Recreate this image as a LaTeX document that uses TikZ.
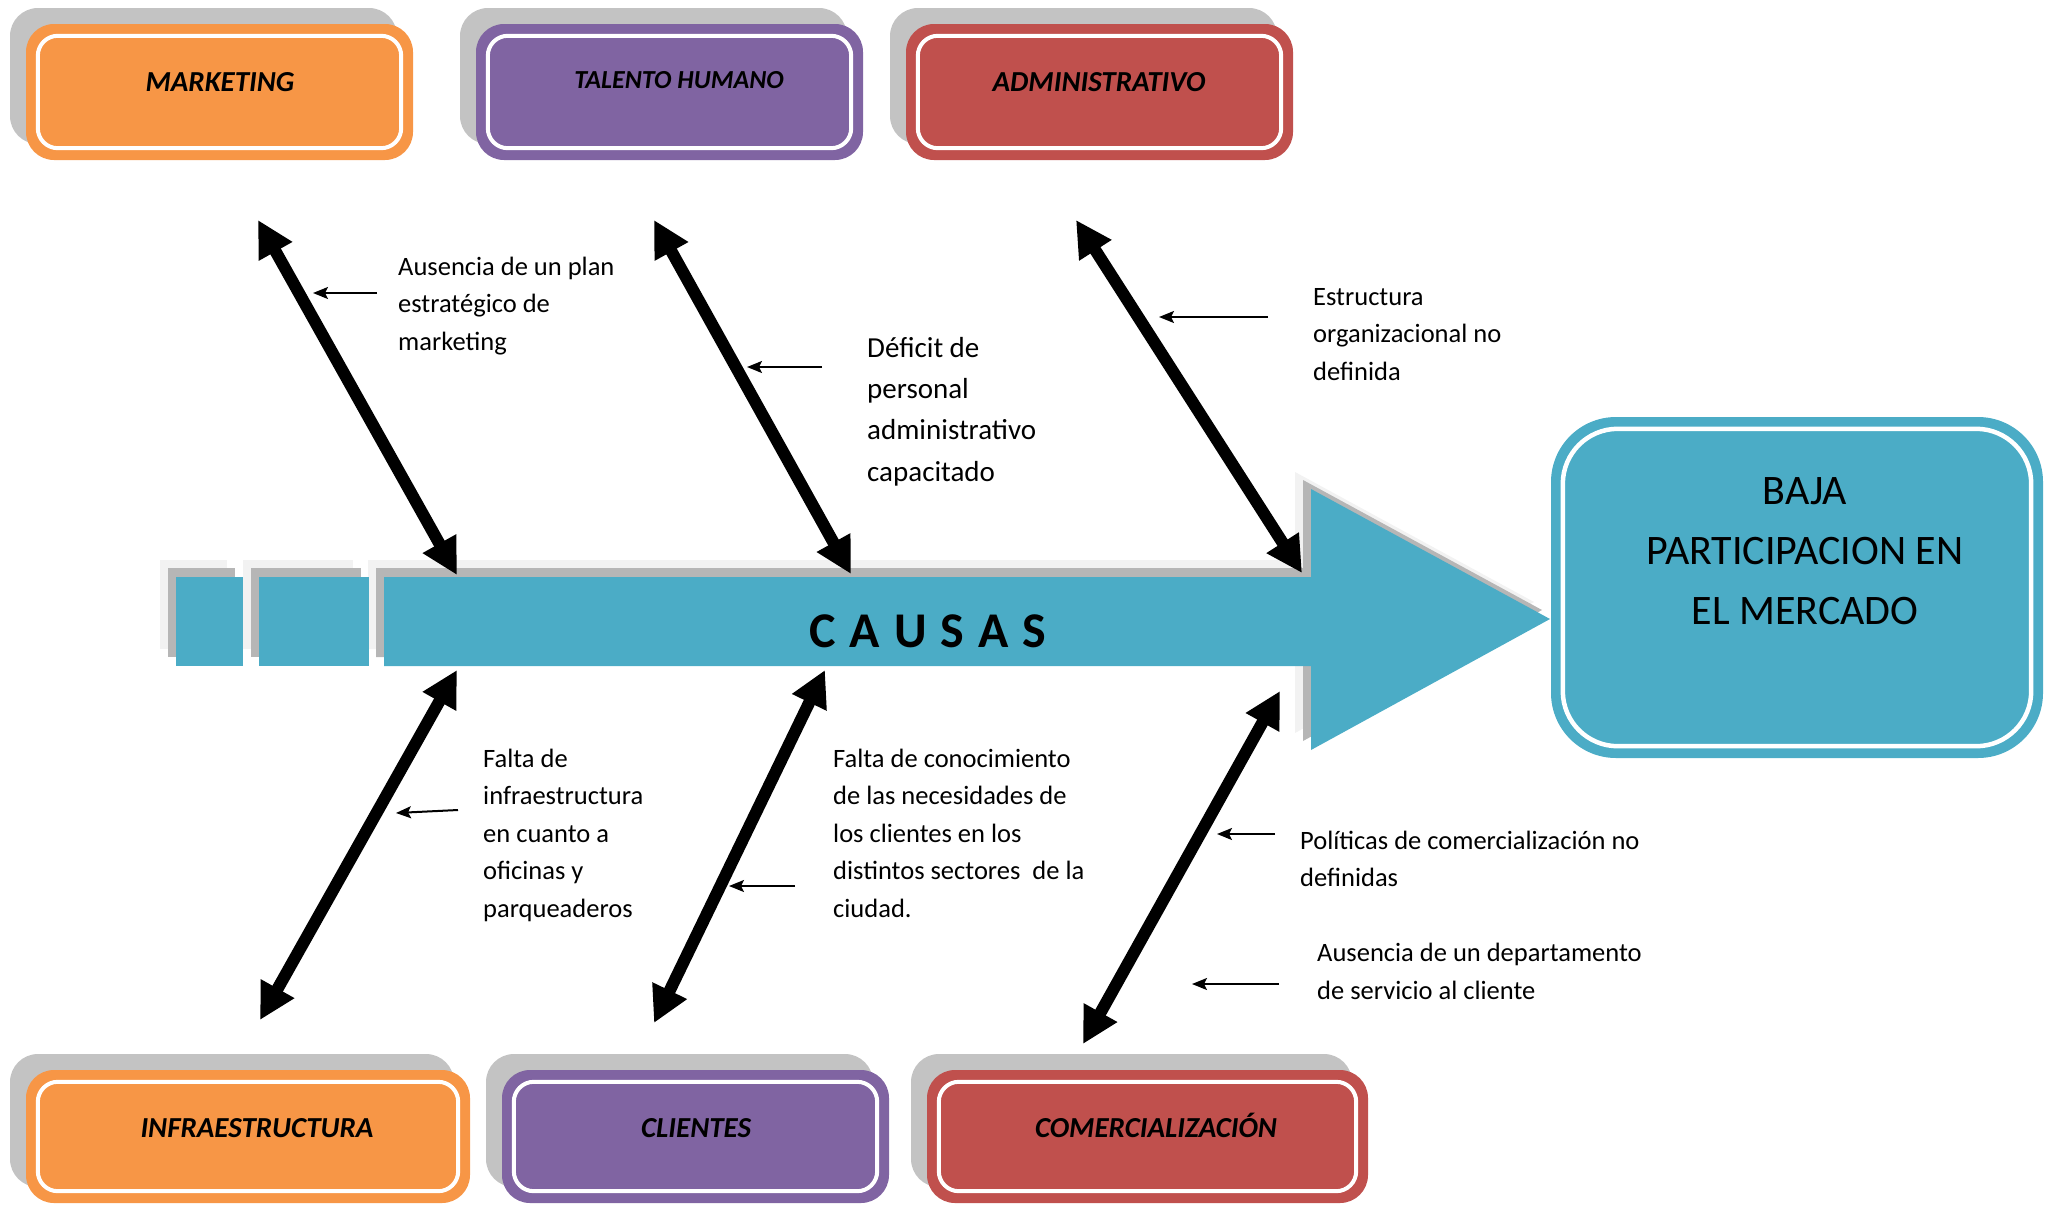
\documentclass[tikz,border=0pt]{standalone}
\usepackage{fontspec}
\setmainfont{Carlito}
\usetikzlibrary{arrows.meta,shadows}
\definecolor{cOrange}{HTML}{F79646}
\definecolor{cPurple}{HTML}{8064A2}
\definecolor{cRed}{HTML}{C0504D}
\definecolor{cTeal}{HTML}{4BACC6}
\definecolor{cShadow}{HTML}{C3C3C3}
\definecolor{cShA}{HTML}{B6B6B6}
\definecolor{cShB}{HTML}{F2F2F2}
\begin{document}
\begin{tikzpicture}[x=1pt,y=-1pt,
  catbox/.style={fill=#1, rounded corners=28pt, minimum height=136pt, inner sep=0pt,
    general shadow={fill=cShadow, shadow xshift=-16pt, shadow yshift=16pt}},
  innerline/.style={draw=white, line width=4pt, rounded corners=20pt},
  catlabel/.style={anchor=base, inner sep=0pt, font=\bfseries\itshape\fontsize{29}{34}\selectfont},
  causetext/.style={anchor=north west, align=left, inner sep=0pt, font=\fontsize{26.5}{37.5}\selectfont},
  bigarrow/.style={line width=12pt, {Triangle[length=36pt,width=36pt]}-{Triangle[length=36pt,width=36pt]}},
  smallarrow/.style={line width=2pt, -{Stealth[length=15pt,width=12pt,inset=3pt]}}
]
\useasboundingbox (0,0) rectangle (2056,1205);

% ---------- category boxes ----------
\node[catbox=cOrange, minimum width=387pt] (mk) at (219.5,92) {};
\node[catbox=cPurple, minimum width=387pt] (th) at (669.5,92) {};
\node[catbox=cRed, minimum width=387pt] (ad) at (1099.5,92) {};
\node[catbox=cOrange, minimum width=444pt, minimum height=133pt] (inf) at (248,1136.5) {};
\node[catbox=cPurple, minimum width=387pt, minimum height=133pt] (cl) at (695.5,1136.5) {};
\node[catbox=cRed, minimum width=441pt, minimum height=133pt] (co) at (1147.5,1136.5) {};
\foreach \b in {mk,th,ad,inf,cl,co}{
  \draw[innerline] ([xshift=12pt,yshift=-12pt]\b.north west) rectangle ([xshift=-12pt,yshift=12pt]\b.south east);
}
\node[catlabel] (mkl) at (220,91) {MARKETING};
\node[catlabel, font=\bfseries\itshape\fontsize{26}{30}\selectfont] (thl) at (679,88) {TALENTO HUMANO};
\node[catlabel] (adl) at (1099,91) {ADMINISTRATIVO};
\node[catlabel] (infl) at (257,1137) {INFRAESTRUCTURA};
\node[catlabel] (cll) at (696,1137) {CLIENTES};
\node[catlabel] (col) at (1156,1137) {COMERCIALIZACIÓN};

% ---------- spine ----------
\foreach \dx/\dy/\c in {-16/-17/cShB,-8/-9/cShA}{
  \begin{scope}[shift={(\dx,\dy)}]
    \fill[\c] (176,577) rectangle (243,666);
    \fill[\c] (259,577) rectangle (369,666);
    \fill[\c] (384,577) -- (1311,577) -- (1311,489) -- (1550,619) -- (1311,750) -- (1311,666) -- (384,666) -- cycle;
  \end{scope}
}
\fill[cTeal] (176,577) rectangle (243,666);
\fill[cTeal] (259,577) rectangle (369,666);
\fill[cTeal] (384,577) -- (1311,577) -- (1311,489) -- (1550,619) -- (1311,750) -- (1311,666) -- (384,666) -- cycle;
\node[anchor=base, inner sep=0pt, font=\bfseries\fontsize{50}{60}\selectfont] (causas) at (928,647)
  {C\hspace{14pt}A\hspace{14pt}U\hspace{14pt}S\hspace{14pt}A\hspace{14pt}S};

% ---------- effect box ----------
\node[fill=cTeal, rounded corners=65pt, minimum width=492pt, minimum height=341pt, inner sep=0pt] (eff) at (1797,587.5) {};
\draw[draw=white, line width=4.5pt, rounded corners=55pt] ([xshift=12pt,yshift=-12pt]eff.north west) rectangle ([xshift=-12pt,yshift=12pt]eff.south east);
\node[anchor=north, align=center, inner sep=0pt, font=\fontsize{42}{60}\selectfont] (efft) at (1805,472)
  {\rule{0pt}{32pt}BAJA\\PARTICIPACION EN\\EL MERCADO};

% ---------- big arrows ----------
\coordinate (a1s) at (258,220);  \coordinate (a1e) at (457,575);
\coordinate (a2s) at (654,220);  \coordinate (a2e) at (851,574);
\coordinate (a3s) at (1076,220); \coordinate (a3e) at (1302,573);
\coordinate (a4s) at (457,670);  \coordinate (a4e) at (260,1020);
\coordinate (a5s) at (825,670);  \coordinate (a5e) at (654,1023);
\coordinate (a6s) at (1280,691); \coordinate (a6e) at (1083,1044);
\foreach \i in {1,...,6}{ \draw[bigarrow] (a\i s) -- (a\i e); }

% ---------- small arrows ----------
\coordinate (s1s) at (377,293);  \coordinate (s1e) at (313,293);
\coordinate (s2s) at (822,367);  \coordinate (s2e) at (747,367);
\coordinate (s3s) at (1268,317); \coordinate (s3e) at (1159,317);
\coordinate (s4s) at (458,810);  \coordinate (s4e) at (396,813);
\coordinate (s5s) at (795,886);  \coordinate (s5e) at (729,886);
\coordinate (s6s) at (1275,834); \coordinate (s6e) at (1217,834);
\coordinate (s7s) at (1279,984); \coordinate (s7e) at (1192,984);
\foreach \i in {1,...,7}{ \draw[smallarrow] (s\i s) -- (s\i e); }

% ---------- cause texts ----------
\node[causetext] (t1) at (398,253) {\rule{0pt}{22pt}Ausencia de un plan\\estratégico de\\marketing};
\node[causetext, font=\fontsize{29}{41.3}\selectfont] (t2) at (867,333) {\rule{0pt}{24pt}Déficit de\\personal\\administrativo\\capacitado};
\node[causetext] (t3) at (1313,283) {\rule{0pt}{22pt}Estructura\\organizacional no\\definida};
\node[causetext] (t4) at (483,745) {\rule{0pt}{22pt}Falta de\\infraestructura\\en cuanto a\\oficinas y\\parqueaderos};
\node[causetext] (t5) at (833,745) {\rule{0pt}{22pt}Falta de conocimiento\\de las necesidades de\\los clientes en los\\distintos sectores~ de la\\ciudad.};
\node[causetext] (t6) at (1300,827) {\rule{0pt}{22pt}Políticas de comercialización no\\definidas};
\node[causetext, font=\fontsize{26.5}{38.5}\selectfont] (t7) at (1317,939) {\rule{0pt}{22pt}Ausencia de un departamento\\de servicio al cliente};
\end{tikzpicture}
\end{document}
